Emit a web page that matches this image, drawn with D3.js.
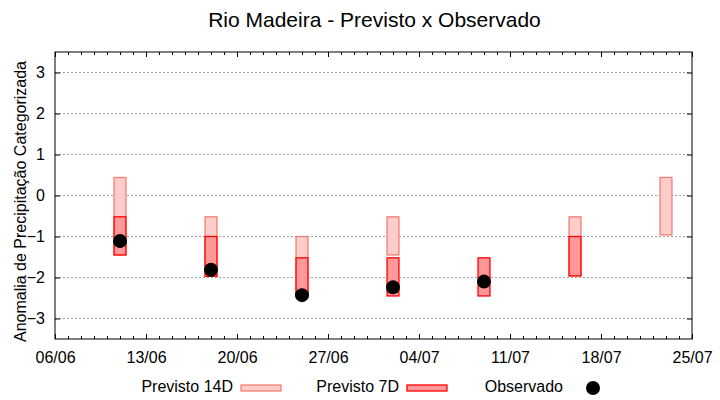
<!DOCTYPE html>
<html>
<head>
<meta charset="utf-8">
<script src="https://cdn.jsdelivr.net/npm/d3@7"></script>
<style>
  body { margin: 0; background: #fff; }
  text { font-family: "Liberation Sans", Arial, sans-serif; fill: #000; }
</style>
</head>
<body>
<div></div>
<script>
var dates = ["11/06", "18/06", "25/06", "02/07", "09/07", "16/07", "23/07"];
var prev14Top = [0.44, -0.52, -1.0, -0.52, null, -0.52, 0.44];
var prev14Bottom = [-1.45, -1.97, -2.45, -1.45, null, -1.96, -0.96];
var prev7Top = [-0.52, -1.0, -1.52, -1.52, -1.52, -1.0, null];
var prev7Bottom = [-1.45, -1.97, -2.45, -2.45, -2.45, -1.96, null];
var observed = [-1.11, -1.81, -2.43, -2.24, -2.10, null, null];
var xTickLabels = ["06/06", "13/06", "20/06", "27/06", "04/07", "11/07", "18/07", "25/07"];
var yTicks = [-3, -2, -1, 0, 1, 2, 3];

var width = 720,
	height = 400,
	margin = {top: 52, right: 28, bottom: 61, left: 55};

var parseDay = function(s) { return d3.utcParse("%d/%m/%Y")(s + "/2024"); };

var svg = d3.select("div")
	.append("svg")
	.attr("width", width)
	.attr("height", height);

var x = d3.scaleUtc()
	.domain([parseDay(xTickLabels[0]), parseDay(xTickLabels[xTickLabels.length - 1])])
	.range([margin.left, width - margin.right]);

var y = d3.scaleLinear()
	.domain([-3.5, 3.5])
	.range([height - margin.bottom, margin.top]);

// grid
svg.append("g")
	.selectAll("line")
	.data(yTicks)
	.enter().append("line")
	.attr("x1", margin.left)
	.attr("x2", width - margin.right)
	.attr("y1", function(d) { return y(d); })
	.attr("y2", function(d) { return y(d); })
	.style("stroke", "#a0a0a0")
	.style("stroke-width", 1)
	.style("stroke-dasharray", "2,2");

// axes (ticks inward, mirrored)
var majorX = xTickLabels.map(parseDay);
var minorX = d3.utcDay.range(x.domain()[0], x.domain()[1]);

svg.append("g")
	.attr("transform", "translate(0," + y.range()[0] + ")")
	.call(d3.axisBottom(x).tickValues(minorX).tickSize(-3).tickFormat(""))
	.call(function(g) { g.select(".domain").remove(); });

svg.append("g")
	.attr("transform", "translate(0," + y.range()[1] + ")")
	.call(d3.axisTop(x).tickValues(minorX).tickSize(-3).tickFormat(""))
	.call(function(g) { g.select(".domain").remove(); });

svg.append("g")
	.attr("transform", "translate(0," + y.range()[0] + ")")
	.call(d3.axisBottom(x).tickValues(majorX).tickSize(-5).tickPadding(13)
		.tickFormat(d3.utcFormat("%d/%m")))
	.call(function(g) {
		g.select(".domain").remove();
		g.selectAll("text").style("font-size", "16px").style("font-family", null);
	});

svg.append("g")
	.attr("transform", "translate(0," + y.range()[1] + ")")
	.call(d3.axisTop(x).tickValues(majorX).tickSize(-5).tickFormat(""))
	.call(function(g) { g.select(".domain").remove(); });

svg.append("g")
	.attr("transform", "translate(" + x.range()[0] + ",0)")
	.call(d3.axisLeft(y).tickValues(yTicks).tickSize(-5).tickPadding(10).tickFormat(d3.format("d")))
	.call(function(g) {
		g.select(".domain").remove();
		g.selectAll("text").style("font-size", "16px").style("font-family", null);
	});

svg.append("g")
	.attr("transform", "translate(" + x.range()[1] + ",0)")
	.call(d3.axisRight(y).tickValues(yTicks).tickSize(-5).tickFormat(""))
	.call(function(g) { g.select(".domain").remove(); });

svg.selectAll(".tick line").style("stroke", "#000");

// frame
svg.append("rect")
	.attr("x", x.range()[0])
	.attr("y", y.range()[1])
	.attr("width", x.range()[1] - x.range()[0])
	.attr("height", y.range()[0] - y.range()[1])
	.style("fill", "none")
	.style("stroke", "#000")
	.style("stroke-width", 1);

// bars
function drawBars(tops, bottoms, fill, stroke) {
	dates.forEach(function(d, i) {
		if (tops[i] === null) return;
		var day = parseDay(d);
		var x0 = x(d3.utcHour.offset(day, -11)),
			x1 = x(d3.utcHour.offset(day, 11));
		svg.append("rect")
			.attr("x", x0)
			.attr("y", y(tops[i]))
			.attr("width", x1 - x0)
			.attr("height", y(bottoms[i]) - y(tops[i]))
			.style("fill", fill)
			.style("stroke", stroke)
			.style("stroke-width", 1.3);
	});
}

drawBars(prev14Top, prev14Bottom, "#ffcccc", "#f08070");
drawBars(prev7Top, prev7Bottom, "#ff9999", "#ff0000");

dates.forEach(function(d, i) {
	if (observed[i] === null) return;
	svg.append("circle")
		.attr("cx", x(parseDay(d)))
		.attr("cy", y(observed[i]))
		.attr("r", 7)
		.style("fill", "#000");
});

// title and axis label
svg.append("text")
	.attr("x", (x.range()[0] + x.range()[1]) / 2 + 1)
	.attr("y", 27)
	.attr("text-anchor", "middle")
	.style("font-size", "21px")
	.text("Rio Madeira - Previsto x Observado");

svg.append("text")
	.attr("transform", "translate(26," + ((y.range()[0] + y.range()[1]) / 2 + 6) + ") rotate(-90)")
	.attr("text-anchor", "middle")
	.style("font-size", "16px")
	.text("Anomalia de Precipitação Categorizada");

// legend
var legend = svg.append("g");
var legendY = 392;

legend.append("text").attr("x", 233).attr("y", legendY).attr("text-anchor", "end")
	.style("font-size", "16px").text("Previsto 14D");
legend.append("rect").attr("x", 241).attr("y", 385).attr("width", 40).attr("height", 6)
	.style("fill", "#ffcccc").style("stroke", "#f08070").style("stroke-width", 1.3);

legend.append("text").attr("x", 399).attr("y", legendY).attr("text-anchor", "end")
	.style("font-size", "16px").text("Previsto 7D");
legend.append("rect").attr("x", 407).attr("y", 385).attr("width", 40).attr("height", 6)
	.style("fill", "#ff9999").style("stroke", "#ff0000").style("stroke-width", 1.3);

legend.append("text").attr("x", 563).attr("y", legendY).attr("text-anchor", "end")
	.style("font-size", "16px").text("Observado");
legend.append("circle").attr("cx", 593).attr("cy", 388).attr("r", 7).style("fill", "#000");
</script>
</body>
</html>
